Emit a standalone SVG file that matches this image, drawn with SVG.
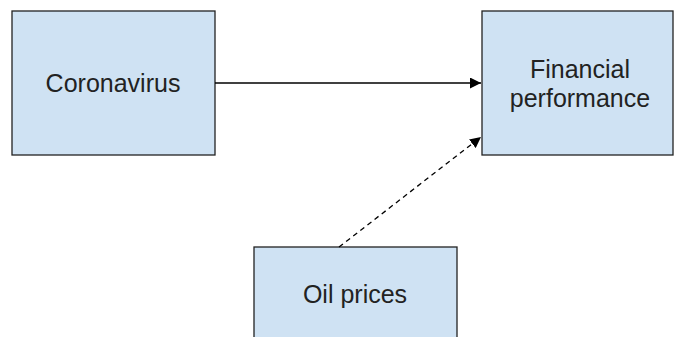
<svg xmlns="http://www.w3.org/2000/svg" width="674" height="337" viewBox="0 0 674 337">
<style>
.box{fill:#cfe2f3;stroke:#222;stroke-width:1.3}
.lbl{font-family:"Liberation Sans",Arial,sans-serif;font-size:25px;fill:#222;text-anchor:middle}
.edge{stroke:#000;stroke-width:1.3;fill:none}
</style>
<defs>
<marker id="ah2" viewBox="0 0 10 10" refX="10" refY="5" markerWidth="11" markerHeight="11" markerUnits="userSpaceOnUse" orient="auto"><path d="M0,0 L10,5 L0,10 z" fill="#000"/></marker>
</defs>
<rect width="674" height="337" fill="#fff"/>
<g id="coronavirus"><rect class="box" x="12" y="11" width="203" height="144"/><text class="lbl" x="113" y="92">Coronavirus</text></g>
<g id="financial"><rect class="box" x="482" y="11" width="191" height="144"/><text class="lbl" x="580" y="78">Financial</text><text class="lbl" x="580" y="107">performance</text></g>
<g id="oil"><rect class="box" x="254" y="247" width="203" height="100"/><text class="lbl" x="355" y="303">Oil prices</text></g>
<g id="connectors">
<line class="edge" x1="215" y1="83" x2="481" y2="83" marker-end="url(#ah2)"/>
<line class="edge" x1="339" y1="247" x2="481" y2="137" stroke-dasharray="5,4" marker-end="url(#ah2)" stroke="#333"/>
</g>
</svg>
